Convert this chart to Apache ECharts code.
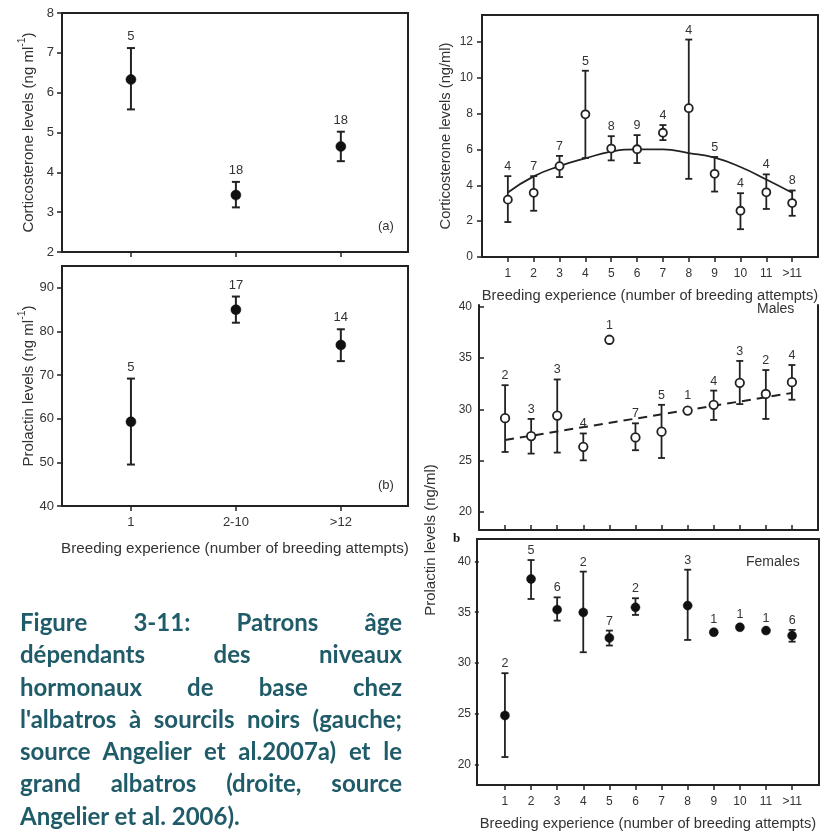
<!DOCTYPE html>
<html>
<head>
<meta charset="utf-8">
<script src="https://cdn.jsdelivr.net/npm/echarts@6/dist/echarts.min.js"></script>
<style>
  html, body { margin: 0; padding: 0; background: #fff; }
  #chart { position: absolute; left: 0; top: 0; width: 828px; height: 832px; }
  #caption { position: absolute; left: 20px; top: 606px; width: 382px; color: #1f5b68;
    font-family: Lato, "Open Sans", sans-serif; font-weight: bold; line-height: 32.3px; }
  #caption div { text-align: justify; text-align-last: justify; white-space: normal; }
  #caption div.last { text-align-last: left; }
</style>
</head>
<body>
<div id="chart"></div>
<div id="caption"></div>
<script>
// ---------- DATA ----------
// Left: black-browed albatross (Angelier et al. 2007a)
const leftCats = ['1', '2-10', '>12'];
const cortA    = [6.33, 3.43, 4.65];
const cortALo  = [5.58, 3.12, 4.28];
const cortAHi  = [7.12, 3.76, 5.02];
const cortAN   = [5, 18, 18];

const prolB    = [59.3, 85.0, 76.9];
const prolBLo  = [49.5, 82.0, 73.2];
const prolBHi  = [69.2, 88.0, 80.5];
const prolBN   = [5, 17, 14];

// Right: wandering albatross (Angelier et al. 2006)
const rightCats = ['1', '2', '3', '4', '5', '6', '7', '8', '9', '10', '11', '>11'];
const gaCort    = [3.2, 3.58, 5.07, 7.96, 6.05, 6.01, 6.93, 8.3, 4.64, 2.58, 3.61, 3.01];
const gaCortLo  = [1.95, 2.58, 4.46, 5.52, 5.39, 5.24, 6.52, 4.36, 3.65, 1.55, 2.68, 2.3];
const gaCortHi  = [4.51, 4.51, 5.64, 10.39, 6.74, 6.8, 7.36, 12.13, 5.58, 3.56, 4.61, 3.71];
const gaCortN   = [4, 7, 7, 5, 8, 9, 4, 4, 5, 4, 4, 8];
const gaCortFit = [3.6, 4.5, 5.07, 5.5, 5.88, 6.0, 6.0, 5.8, 5.54, 5.02, 4.32, 3.58];

const maleProl   = [29.13, 27.38, 29.39, 26.33, 36.8, 27.25, 27.81, 29.88, 30.44, 32.59, 31.5, 32.65];
const maleProlLo = [25.83, 25.67, 25.77, 25.01, null, 26.0, 25.24, null, 28.96, 30.51, 29.06, 30.94];
const maleProlHi = [32.36, 29.06, 32.92, 27.64, null, 28.63, 30.44, null, 31.83, 34.73, 33.84, 34.33];
const maleProlN  = [2, 3, 3, 4, 1, 7, 5, 1, 4, 3, 2, 4];
const maleFitX   = [1, 12];
const maleFit    = [27.0, 31.6];

const femProl   = [24.84, 38.27, 35.25, 34.98, 32.47, 35.48, null, 35.65, 33.03, 33.52, 33.19, 32.7];
const femProlLo = [20.75, 36.3, 34.17, 31.06, 31.72, 34.73, null, 32.27, null, null, null, 32.1];
const femProlHi = [29.0, 40.13, 36.46, 38.99, 33.19, 36.37, null, 39.18, null, null, null, 33.26];
const femProlN  = [2, 5, 6, 2, 7, 2, null, 3, 1, 1, 1, 6];

const leftTicksCort = [2, 3, 4, 5, 6, 7, 8];
const leftTicksProl = [40, 50, 60, 70, 80, 90];
const rightTicksCort = [0, 2, 4, 6, 8, 10, 12];
const rightTicksProl = [20, 25, 30, 35, 40];

const captionLines = [
  'Figure 3-11: Patrons âge',
  'dépendants des niveaux',
  'hormonaux de base chez',
  "l'albatros à sourcils noirs (gauche;",
  'source Angelier et al.2007a) et le',
  'grand albatros (droite, source',
  'Angelier et al. 2006).'
];

// ---------- HELPERS ----------
const FONT = '"Liberation Sans", Arial, Helvetica, sans-serif';
const TXT = '#333';
const INK = '#222';
const pos = (arr) => arr.map((_, i) => i + 1);

function pts(vals) {
  return vals.map((v, i) => v == null ? null : [i + 1, v]).filter(Boolean);
}
function errData(lo, hi) {
  return lo.map((l, i) => (l == null || hi[i] == null) ? null : [i + 1, l, hi[i]]).filter(Boolean);
}
function labData(vals, hi, n) {
  return vals.map((v, i) => v == null ? null :
    [i + 1, hi[i] != null ? hi[i] : v, n[i], hi[i] != null ? 1 : 0]).filter(Boolean);
}
function errSeries(ax, lo, hi, capHalf, lw) {
  return {
    type: 'custom', xAxisIndex: ax, yAxisIndex: ax, z: 3, silent: true,
    encode: { x: 0, y: [1, 2] },
    data: errData(lo, hi),
    renderItem: function (params, api) {
      const x = api.value(0);
      const a = api.coord([x, api.value(1)]);
      const b = api.coord([x, api.value(2)]);
      const st = { stroke: INK, lineWidth: lw };
      return { type: 'group', children: [
        { type: 'line', shape: { x1: a[0], y1: a[1], x2: b[0], y2: b[1] }, style: st },
        { type: 'line', shape: { x1: a[0] - capHalf, y1: a[1], x2: a[0] + capHalf, y2: a[1] }, style: st },
        { type: 'line', shape: { x1: b[0] - capHalf, y1: b[1], x2: b[0] + capHalf, y2: b[1] }, style: st }
      ]};
    }
  };
}
function labSeries(ax, vals, hi, n, offErr, offPt, fs) {
  return {
    type: 'custom', xAxisIndex: ax, yAxisIndex: ax, z: 5, silent: true,
    encode: { x: 0, y: 1 },
    data: labData(vals, hi, n),
    renderItem: function (params, api) {
      const p = api.coord([api.value(0), api.value(1)]);
      const off = api.value(3) ? offErr : offPt;
      return { type: 'text', x: p[0], y: p[1] - off,
        style: { text: String(api.value(2)), align: 'center', verticalAlign: 'bottom',
          textAlign: 'center', textVerticalAlign: 'bottom',
          fontSize: fs, fontFamily: FONT, fill: TXT } };
    }
  };
}
function ptSeries(ax, vals, filled, size) {
  return {
    type: 'scatter', xAxisIndex: ax, yAxisIndex: ax, z: 4, silent: true,
    symbol: 'circle', symbolSize: size,
    data: pts(vals),
    itemStyle: filled ? { color: '#111', borderColor: '#111', borderWidth: 0.5, opacity: 1 }
                      : { color: '#fff', borderColor: INK, borderWidth: 1.8, opacity: 1 }
  };
}

const tickStyle = { color: INK, width: 1.5 };
const labStyle = (fs) => ({ fontSize: fs, color: TXT, fontFamily: FONT });
const supRich = (fs) => ({
  t: { fontSize: fs, color: TXT, fontFamily: FONT, lineHeight: 19, verticalAlign: 'bottom' },
  s: { fontSize: 10.5, color: TXT, fontFamily: FONT, lineHeight: 19, verticalAlign: 'top' }
});

// ---------- OPTION ----------
const option = {
  animation: false,
  backgroundColor: '#fff',
  grid: [
    { left: 62, top: 13, width: 346, height: 239, show: true, borderColor: INK, borderWidth: 2, backgroundColor: 'transparent' },
    { left: 62, top: 266, width: 346, height: 240, show: true, borderColor: INK, borderWidth: 2, backgroundColor: 'transparent' },
    { left: 482, top: 15, width: 336, height: 242, show: true, borderColor: INK, borderWidth: 2, backgroundColor: 'transparent' },
    { left: 479, top: 305, width: 339, height: 225, show: false },
    { left: 477, top: 539, width: 342, height: 246, show: true, borderColor: INK, borderWidth: 2, backgroundColor: 'transparent' }
  ],
  xAxis: [
    { gridIndex: 0, type: 'value', min: 0.343, max: 3.64, splitLine: { show: false },
      axisLine: { show: false },
      axisTick: { show: true, customValues: pos(leftCats), length: 5, lineStyle: tickStyle },
      axisLabel: { show: false } },
    { gridIndex: 1, type: 'value', min: 0.343, max: 3.64, splitLine: { show: false },
      axisLine: { show: false },
      axisTick: { show: true, customValues: pos(leftCats), length: 5, lineStyle: tickStyle },
      axisLabel: Object.assign(labStyle(13), { customValues: pos(leftCats), margin: 10,
        formatter: (v) => leftCats[Math.round(v) - 1] }),
      name: 'Breeding experience (number of breeding attempts)', nameLocation: 'middle', nameGap: 35,
      nameMoveOverlap: false,
      nameTextStyle: { fontSize: 15.2, color: TXT, fontFamily: FONT } },
    { gridIndex: 2, type: 'value', min: 0, max: 13, splitLine: { show: false },
      axisLine: { show: false },
      axisTick: { show: true, customValues: pos(rightCats), length: 5, lineStyle: tickStyle },
      axisLabel: Object.assign(labStyle(12), { customValues: pos(rightCats), margin: 11,
        formatter: (v) => rightCats[Math.round(v) - 1] }),
      name: 'Breeding experience (number of breeding attempts)', nameLocation: 'middle', nameGap: 31,
      nameMoveOverlap: false,
      nameTextStyle: { fontSize: 14.7, color: TXT, fontFamily: FONT } },
    { gridIndex: 3, type: 'value', min: 0, max: 13, splitLine: { show: false },
      axisLine: { show: true, lineStyle: { color: INK, width: 2 } },
      axisTick: { show: true, inside: true, customValues: pos(rightCats), length: 5, lineStyle: tickStyle },
      axisLabel: { show: false } },
    { gridIndex: 4, type: 'value', min: -0.07, max: 13.03, splitLine: { show: false },
      axisLine: { show: false },
      axisTick: { show: true, customValues: pos(rightCats), length: 5, lineStyle: tickStyle },
      axisLabel: Object.assign(labStyle(12), { customValues: pos(rightCats), margin: 11,
        formatter: (v) => rightCats[Math.round(v) - 1] }),
      name: 'Breeding experience (number of breeding attempts)', nameLocation: 'middle', nameGap: 31,
      nameMoveOverlap: false,
      nameTextStyle: { fontSize: 14.7, color: TXT, fontFamily: FONT } }
  ],
  yAxis: [
    { gridIndex: 0, type: 'value', min: 2, max: 8, splitLine: { show: false },
      axisLine: { show: false },
      axisTick: { show: true, customValues: leftTicksCort, length: 5, lineStyle: tickStyle },
      axisLabel: Object.assign(labStyle(13), { customValues: leftTicksCort, margin: 8 }),
      name: '{t|Corticosterone levels (ng ml}{s|-1}{t|)}', nameLocation: 'middle', nameGap: 26,
      nameMoveOverlap: false,
      nameTextStyle: { fontFamily: FONT, color: TXT, rich: supRich(15) } },
    { gridIndex: 1, type: 'value', min: 40, max: 95, splitLine: { show: false },
      axisLine: { show: false },
      axisTick: { show: true, customValues: leftTicksProl, length: 5, lineStyle: tickStyle },
      axisLabel: Object.assign(labStyle(13), { customValues: leftTicksProl, margin: 8 }),
      name: '{t|Prolactin levels (ng ml}{s|-1}{t|)}', nameLocation: 'middle', nameGap: 26,
      nameMoveOverlap: false,
      nameTextStyle: { fontFamily: FONT, color: TXT, rich: supRich(15) } },
    { gridIndex: 2, type: 'value', min: 0, max: 13.5, splitLine: { show: false },
      axisLine: { show: false },
      axisTick: { show: true, customValues: rightTicksCort, length: 5, lineStyle: tickStyle },
      axisLabel: Object.assign(labStyle(12), { customValues: rightTicksCort, margin: 9 }),
      name: 'Corticosterone levels (ng/ml)', nameLocation: 'middle', nameGap: 29,
      nameMoveOverlap: false,
      nameTextStyle: { fontSize: 14.7, color: TXT, fontFamily: FONT } },
    { gridIndex: 3, type: 'value', min: 18.2, max: 40.2, splitLine: { show: false },
      axisLine: { show: true, lineStyle: { color: INK, width: 2 } },
      axisTick: { show: true, inside: true, customValues: rightTicksProl, length: 5, lineStyle: tickStyle },
      axisLabel: Object.assign(labStyle(12), { customValues: rightTicksProl, margin: 7 }) },
    { gridIndex: 4, type: 'value', min: 18, max: 42.2, splitLine: { show: false },
      axisLine: { show: false },
      axisTick: { show: true, customValues: rightTicksProl, length: 4, lineStyle: tickStyle },
      axisLabel: Object.assign(labStyle(12), { customValues: rightTicksProl, margin: 6 }) },
    { gridIndex: 3, type: 'value', position: 'right', min: 18.2, max: 40.2, splitLine: { show: false },
      axisLine: { show: true, lineStyle: { color: INK, width: 2 } },
      axisTick: { show: false }, axisLabel: { show: false } }
  ],
  graphic: [
    { type: 'text', left: 378, top: 220, style: { text: '(a)', fontSize: 13, fontFamily: FONT, fill: TXT } },
    { type: 'text', left: 378, top: 479, style: { text: '(b)', fontSize: 13, fontFamily: FONT, fill: TXT } },
    { type: 'text', left: 757, top: 302, style: { text: 'Males', fontSize: 14, fontFamily: FONT, fill: TXT } },
    { type: 'text', left: 746, top: 555, style: { text: 'Females', fontSize: 14, fontFamily: FONT, fill: TXT } },
    { type: 'text', left: 453, top: 532, style: { text: 'b', fontSize: 13, fontWeight: 'bold', fontFamily: '"Liberation Serif", "DejaVu Serif", serif', fill: '#111' } },
    { type: 'text', x: 431, y: 540, rotation: Math.PI / 2,
      style: { text: 'Prolactin levels (ng/ml)', fontSize: 15, fontFamily: FONT, fill: TXT,
        align: 'center', verticalAlign: 'middle', textAlign: 'center', textVerticalAlign: 'middle' } }
  ],
  series: [
    // (a)
    errSeries(0, cortALo, cortAHi, 4, 2),
    ptSeries(0, cortA, true, 10),
    labSeries(0, cortA, cortAHi, cortAN, 5, 8, 13),
    // (b)
    errSeries(1, prolBLo, prolBHi, 4, 2),
    ptSeries(1, prolB, true, 10),
    labSeries(1, prolB, prolBHi, prolBN, 5, 8, 13),
    // top right corticosterone
    { type: 'line', xAxisIndex: 2, yAxisIndex: 2, z: 2, smooth: 0.5, symbol: 'none', silent: true,
      data: gaCortFit.map((v, i) => [i + 1, v]), lineStyle: { color: INK, width: 1.8 } },
    errSeries(2, gaCortLo, gaCortHi, 3.5, 1.8),
    ptSeries(2, gaCort, false, 8),
    labSeries(2, gaCort, gaCortHi, gaCortN, 3, 7, 12.5),
    // males
    { type: 'line', xAxisIndex: 3, yAxisIndex: 3, z: 2, symbol: 'none', silent: true,
      data: maleFitX.map((x, i) => [x, maleFit[i]]), lineStyle: { color: INK, width: 2, type: [9, 6] } },
    errSeries(3, maleProlLo, maleProlHi, 3.5, 1.8),
    ptSeries(3, maleProl, false, 8.5),
    labSeries(3, maleProl, maleProlHi, maleProlN, 3, 8, 12.5),
    // females
    errSeries(4, femProlLo, femProlHi, 3.5, 1.8),
    ptSeries(4, femProl, true, 9),
    labSeries(4, femProl, femProlHi, femProlN, 3, 6, 12.5)
  ]
};

const chart = echarts.init(document.getElementById('chart'), null, { renderer: 'canvas' });
chart.setOption(option);

// ---------- CAPTION ----------
(function () {
  const cap = document.getElementById('caption');
  const ctx = document.createElement('canvas').getContext('2d');
  ctx.font = 'bold 100px Lato, "Open Sans", sans-serif';
  const w = Math.max(ctx.measureText(captionLines[3]).width, ctx.measureText(captionLines[4]).width);
  const fs = Math.min(24, 100 * 380 / w);
  cap.style.fontSize = fs.toFixed(2) + 'px';
  captionLines.forEach((t, i) => {
    const d = document.createElement('div');
    d.textContent = t;
    if (i === captionLines.length - 1) d.className = 'last';
    cap.appendChild(d);
  });
})();
</script>
</body>
</html>
